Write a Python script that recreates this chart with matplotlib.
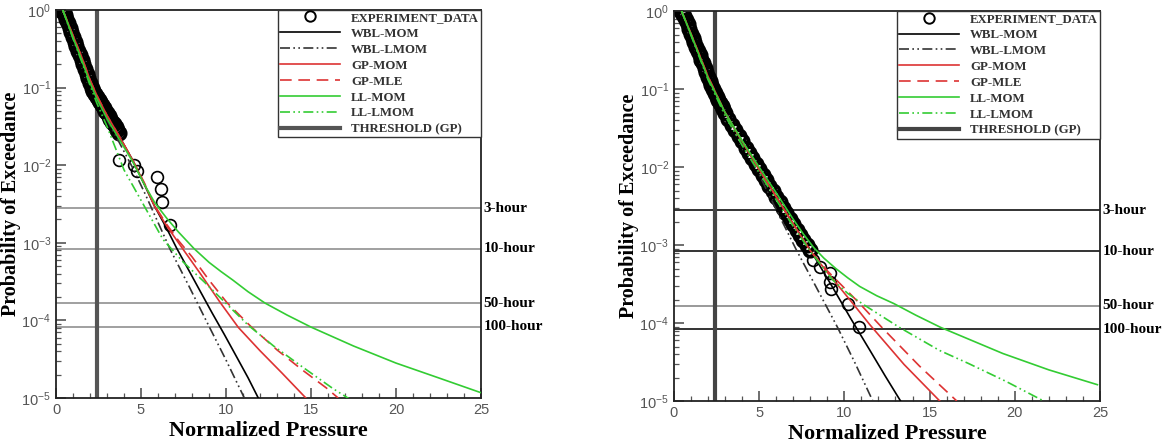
import matplotlib
matplotlib.use("Agg")
import matplotlib.pyplot as plt
from matplotlib.ticker import MultipleLocator, LogLocator, NullFormatter

# ── Data ──────────────────────────────────────────────────────
hour_labels = ["3-hour", "10-hour", "50-hour", "100-hour"]
hour_probs = [2.78e-3, 8.33e-4, 1.67e-4, 8.33e-5]
threshold_x = 2.4

# left panel: experiment, dense band + scattered tail
L_band_x = [0.30, 0.35, 0.40, 0.45, 0.50, 0.60, 0.70, 0.80, 0.90, 1.00, 1.10, 1.20, 1.30,
            1.40, 1.50, 1.60, 1.70, 1.80, 1.90, 2.00, 2.10, 2.20, 2.30, 2.40, 2.50, 2.60,
            2.70, 2.80, 2.90, 3.00, 3.10, 3.20, 3.30, 3.40, 3.50, 3.60, 3.70]
L_band_p = [1.0, 0.977, 0.955, 0.912, 0.851, 0.759, 0.676, 0.589, 0.513, 0.447, 0.389, 0.339,
            0.295, 0.263, 0.229, 0.200, 0.174, 0.151, 0.132, 0.115, 0.100, 0.0912, 0.0832,
            0.0759, 0.0692, 0.0646, 0.0589, 0.0550, 0.0501, 0.0468, 0.0427, 0.0398, 0.0363,
            0.0339, 0.0309, 0.0282, 0.0257]
L_tail_x = [3.70, 4.59, 4.78, 5.95, 6.15, 6.25, 6.73]
L_tail_p = [0.0117, 0.0100, 0.0083, 0.0071, 0.0050, 0.0034, 0.0017]

L_wbl_mom_x = [0.4, 1.0, 1.5, 2.0, 2.4, 3.0, 3.7, 4.5, 5.2, 5.8, 6.5, 7.1, 7.8, 8.5, 9.2,
               9.9, 10.6, 11.3, 11.9]
L_wbl_mom_p = [1.0, 0.457, 0.240, 0.120, 0.0759, 0.0417, 0.0240, 0.0117, 0.00562, 0.00295,
               0.00155, 8.5e-4, 4.47e-4, 2.34e-4, 1.23e-4, 6.6e-5, 3.47e-5, 1.82e-5, 1.0e-5]
L_wbl_lmom_x = [0.4, 1.0, 1.5, 2.0, 2.4, 3.0, 3.7, 4.5, 5.2, 5.8, 6.73, 7.8, 8.9, 10.0, 11.1]
L_wbl_lmom_p = [1.0, 0.447, 0.234, 0.115, 0.0708, 0.038, 0.020, 0.00933, 0.00447, 0.00229,
                8.1e-4, 2.82e-4, 9.3e-5, 3.09e-5, 9.8e-6]
L_gp_mom_x = [0.4, 1.0, 1.5, 2.0, 2.4, 3.0, 3.7, 4.5, 5.2, 5.8, 6.5, 7.5, 8.5, 9.66, 10.73,
              12.0, 13.3, 14.7]
L_gp_mom_p = [1.0, 0.468, 0.251, 0.126, 0.0794, 0.0437, 0.0240, 0.0117, 0.00575, 0.00295,
              0.00166, 8.1e-4, 3.98e-4, 1.70e-4, 8.1e-5, 4.07e-5, 2.09e-5, 1.0e-5]
L_gp_mle_x = [0.4, 1.0, 1.5, 2.0, 2.4, 3.0, 3.7, 4.5, 5.2, 5.8, 6.5, 7.2, 8.0, 9.0, 10.05,
              11.5, 13.0, 14.5, 15.9, 16.6]
L_gp_mle_p = [1.0, 0.468, 0.251, 0.126, 0.0794, 0.0437, 0.0240, 0.0117, 0.00589, 0.00302,
              0.00174, 0.00107, 6.6e-4, 3.31e-4, 1.70e-4, 8.2e-5, 4.17e-5, 2.29e-5, 1.35e-5,
              1.0e-5]
L_ll_mom_x = [0.4, 1.0, 1.5, 2.0, 2.4, 3.0, 3.7, 4.5, 5.2, 5.8, 6.5, 7.2, 8.1, 9.0, 9.7,
              10.4, 11.3, 12.3, 13.6, 15.0, 17.5, 20.0, 22.5, 25.0]
L_ll_mom_p = [1.0, 0.437, 0.229, 0.115, 0.0724, 0.0398, 0.0219, 0.0112, 0.00562, 0.00331,
              0.00209, 0.00138, 8.5e-4, 5.6e-4, 4.27e-4, 3.31e-4, 2.34e-4, 1.67e-4, 1.17e-4,
              8.2e-5, 4.68e-5, 2.82e-5, 1.82e-5, 1.17e-5]
L_ll_lmom_x = [0.4, 1.0, 1.5, 2.0, 2.4, 3.0, 4.0, 5.2, 6.3, 7.5, 8.7, 9.95, 11.3, 12.8, 14.5,
               16.3, 17.4]
L_ll_lmom_p = [1.0, 0.427, 0.219, 0.107, 0.0631, 0.0316, 0.0087, 0.00295, 0.0011, 5.6e-4,
               3.16e-4, 1.70e-4, 8.7e-5, 4.68e-5, 2.51e-5, 1.32e-5, 9.3e-6]

# right panel
R_band_x = [0.40, 0.45, 0.50, 0.60, 0.70, 0.80, 0.90, 1.00, 1.10, 1.20, 1.30, 1.40, 1.50,
            1.60, 1.70, 1.80, 1.90, 2.00, 2.10, 2.20, 2.30, 2.40, 2.50, 2.60, 2.70, 2.80,
            2.90, 3.00, 3.20, 3.40, 3.60, 3.80, 4.00, 4.20, 4.40, 4.60, 4.80, 5.00, 5.20,
            5.40, 5.60, 5.80, 6.00, 6.20, 6.40, 6.60, 6.80, 7.00, 7.20, 7.40, 7.60, 7.80,
            8.00]
R_band_p = [1.0, 1.0, 0.955, 0.871, 0.776, 0.676, 0.589, 0.513, 0.447, 0.398, 0.347, 0.309,
            0.275, 0.240, 0.214, 0.186, 0.166, 0.145, 0.129, 0.112, 0.100, 0.0891, 0.0794,
            0.0724, 0.0661, 0.0603, 0.0550, 0.0501, 0.0417, 0.0347, 0.0295, 0.0251, 0.0214,
            0.0178, 0.0151, 0.0129, 0.0110, 0.00933, 0.00794, 0.00676, 0.00575, 0.00490,
            0.00417, 0.00355, 0.00302, 0.00257, 0.00219, 0.00186, 0.00158, 0.00135, 0.00115,
            0.00100, 8.7e-4]
R_tail_x = [8.16, 8.55, 9.13, 9.13, 9.23, 10.2, 10.85]
R_tail_p = [6.4e-4, 5.3e-4, 4.4e-4, 3.4e-4, 2.7e-4, 1.75e-4, 8.9e-5]

R_wbl_mom_x = [0.45, 1.0, 2.0, 3.0, 4.0, 5.0, 6.0, 7.0, 8.0, 9.2, 10.4, 11.5, 12.4, 13.3]
R_wbl_mom_p = [1.0, 0.513, 0.145, 0.0501, 0.0214, 0.00933, 0.00417, 0.00186, 8.7e-4,
               3.16e-4, 1.12e-4, 4.47e-5, 2.09e-5, 1.0e-5]
R_wbl_lmom_x = [0.45, 1.0, 2.0, 3.0, 4.0, 4.9, 5.9, 7.18, 8.4, 9.6, 10.6, 11.67]
R_wbl_lmom_p = [1.0, 0.501, 0.138, 0.0468, 0.0191, 0.00891, 0.00316, 8.7e-4, 2.75e-4,
                8.8e-5, 3.16e-5, 1.0e-5]
R_gp_mom_x = [0.45, 1.0, 2.0, 3.0, 4.0, 5.0, 6.0, 7.0, 8.0, 9.0, 10.5, 11.5, 13.5, 15.6]
R_gp_mom_p = [1.0, 0.513, 0.145, 0.0501, 0.0214, 0.00933, 0.00417, 0.00186, 8.5e-4,
              4.47e-4, 1.78e-4, 9.5e-5, 2.95e-5, 1.0e-5]
R_gp_mle_x = [0.45, 1.0, 2.0, 3.0, 4.0, 5.0, 6.0, 7.0, 8.0, 9.0, 10.9, 12.2, 14.4, 16.6]
R_gp_mle_p = [1.0, 0.513, 0.145, 0.0501, 0.0214, 0.00933, 0.00417, 0.00186, 8.5e-4,
              4.68e-4, 1.78e-4, 8.8e-5, 2.82e-5, 1.0e-5]
R_ll_mom_x = [0.45, 1.0, 2.0, 3.0, 4.0, 5.0, 6.0, 7.0, 7.6, 8.2, 8.8, 9.5, 10.2, 10.9, 11.9,
              12.9, 14.2, 15.65, 19.3, 22.0, 24.85]
R_ll_mom_p = [1.0, 0.501, 0.138, 0.0501, 0.0219, 0.0100, 0.00468, 0.00214, 0.00138, 9.3e-4,
              6.8e-4, 5.0e-4, 3.8e-4, 2.95e-4, 2.24e-4, 1.78e-4, 1.26e-4, 8.8e-5, 4.07e-5,
              2.51e-5, 1.62e-5]
R_ll_lmom_x = [0.45, 1.0, 2.0, 3.0, 4.0, 5.0, 6.0, 7.0, 8.0, 9.33, 10.2, 11.1, 13.23, 15.57,
               17.3, 19.5, 21.7]
R_ll_lmom_p = [1.0, 0.490, 0.132, 0.0457, 0.0191, 0.00851, 0.0038, 0.00174, 8.3e-4,
               3.55e-4, 2.4e-4, 1.74e-4, 8.8e-5, 4.47e-5, 3.02e-5, 1.78e-5, 1.0e-5]

SERIF = "Liberation Serif"
SANS = "Liberation Sans"
RED = "#dd3333"
GREEN = "#33cc33"
DDOT = (6, 2, 1, 2, 1, 2)

CURVE_LABELS = ["WBL-MOM", "WBL-LMOM", "GP-MOM", "GP-MLE", "LL-MOM", "LL-LMOM"]
CURVE_COLORS = ["black", "#333333", RED, RED, GREEN, GREEN]
CURVE_DASHES = [None, DDOT, None, (7, 4), None, DDOT]


def draw_panel(ax, band, tail, curves, hline_colors, thr_color):
    ax.set_yscale("log")
    ax.set_xlim(0, 25)
    ax.set_ylim(1e-5, 1)

    for p, c in zip(hour_probs, hline_colors):
        ax.axhline(p, color=c, lw=1.4, zorder=1)
    ax.axvline(threshold_x, color=thr_color, lw=3, zorder=1)

    # dense part of the record looks like a thick black band
    ax.plot(band[0], band[1], "o", ms=9, mfc="none", mec="black", mew=2.6, zorder=2)
    ax.plot(tail[0], tail[1], "o", ms=8.5, mfc="none", mec="black", mew=1.2, zorder=2)
    ax.plot([], [], "o", ms=7.5, mfc="none", mec="black", mew=1.4, label="EXPERIMENT_DATA")

    for (x, p), lab, col, ds in zip(curves, CURVE_LABELS, CURVE_COLORS, CURVE_DASHES):
        line, = ax.plot(x, p, color=col, lw=1.2, label=lab, zorder=3)
        if ds is not None:
            line.set_dashes(ds)

    ax.plot([], [], color=thr_color, lw=3, label="THRESHOLD (GP)")

    for p, lab in zip(hour_probs, hour_labels):
        ax.text(25.15, p, lab, family=SERIF, fontweight="bold", fontsize=11,
                va="center", ha="left", clip_on=False)

    ax.xaxis.set_major_locator(MultipleLocator(5))
    ax.xaxis.set_minor_locator(MultipleLocator(1))
    ax.yaxis.set_major_locator(LogLocator(base=10, numticks=10))
    ax.yaxis.set_minor_locator(LogLocator(base=10, subs=range(2, 10), numticks=20))
    ax.yaxis.set_minor_formatter(NullFormatter())
    ax.tick_params(which="both", direction="in", top=False, right=False,
                   colors="#555555", labelsize=10.5)
    ax.tick_params(which="major", length=7, width=1.2)
    ax.tick_params(which="minor", length=3.5, width=0.9)
    for lab in ax.get_xticklabels() + ax.get_yticklabels():
        lab.set_family(SANS)
    for s in ax.spines.values():
        s.set_linewidth(1.3)
        s.set_color("#222222")

    ax.set_xlabel("Normalized Pressure", family=SERIF, fontweight="bold", fontsize=16,
                  labelpad=3)
    ax.set_ylabel("Probability of Exceedance", family=SERIF, fontweight="bold",
                  fontsize=14.5, labelpad=0)

    leg = ax.legend(loc="upper right", borderaxespad=0, fancybox=False, framealpha=1,
                    edgecolor="#333333", handlelength=4.6, handletextpad=0.9,
                    labelspacing=0.3, borderpad=0.15, numpoints=1,
                    prop={"family": SERIF, "weight": "bold", "size": 9.3})
    leg.get_frame().set_linewidth(1.0)
    leg.set_zorder(5)
    for t in leg.get_texts():
        t.set_color("#333333")


fig = plt.figure(figsize=(11.62, 4.44), dpi=100)
ax1 = fig.add_axes([0.0482, 0.1036, 0.3657, 0.874])
ax2 = fig.add_axes([0.5800, 0.0968, 0.3666, 0.878])

draw_panel(ax1, (L_band_x, L_band_p), (L_tail_x, L_tail_p),
           [(L_wbl_mom_x, L_wbl_mom_p), (L_wbl_lmom_x, L_wbl_lmom_p),
            (L_gp_mom_x, L_gp_mom_p), (L_gp_mle_x, L_gp_mle_p),
            (L_ll_mom_x, L_ll_mom_p), (L_ll_lmom_x, L_ll_lmom_p)],
           ["#a0a0a0"] * 4, "#555555")
draw_panel(ax2, (R_band_x, R_band_p), (R_tail_x, R_tail_p),
           [(R_wbl_mom_x, R_wbl_mom_p), (R_wbl_lmom_x, R_wbl_lmom_p),
            (R_gp_mom_x, R_gp_mom_p), (R_gp_mle_x, R_gp_mle_p),
            (R_ll_mom_x, R_ll_mom_p), (R_ll_lmom_x, R_ll_lmom_p)],
           ["#333333", "#333333", "#999999", "#333333"], "#444444")

fig.savefig("out.png", dpi=100)
